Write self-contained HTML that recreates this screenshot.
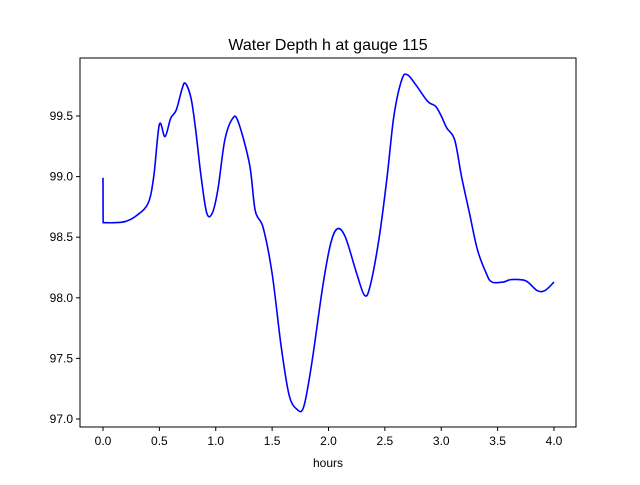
<!DOCTYPE html>
<html><head><meta charset="utf-8"><style>
body{margin:0;background:#fff;}
svg{font-family:"Liberation Sans","DejaVu Sans",sans-serif;}
</style></head><body>
<svg id="chart" width="640" height="480">
<rect x="0" y="0" width="640" height="480" fill="#fff"/>
<text x="328" y="50" font-size="16" text-anchor="middle">Water Depth h at gauge 115</text>
<g id="plot"></g>
<rect x="80" y="58" width="496" height="369" fill="none" stroke="#000" stroke-width="1"/>
<text x="328" y="467" font-size="12" text-anchor="middle">hours</text>
</svg>
<script>
const times=[0,0.001,0.1,0.2,0.3,0.4,0.45,0.5,0.55,0.6,0.65,0.7,0.73,0.78,0.82,0.87,0.92,0.97,1.02,1.08,1.15,1.2,1.3,1.35,1.42,1.5,1.58,1.65,1.72,1.78,1.85,1.95,2.02,2.08,2.15,2.25,2.32,2.37,2.45,2.52,2.58,2.65,2.7,2.78,2.88,2.95,3.0,3.05,3.12,3.18,3.25,3.32,3.4,3.45,3.55,3.62,3.75,3.85,3.92,4.0];
const depths=[98.99,98.62,98.62,98.63,98.68,98.78,99.0,99.43,99.33,99.48,99.55,99.72,99.77,99.65,99.4,99.0,98.7,98.7,98.9,99.3,99.48,99.45,99.1,98.72,98.58,98.2,97.6,97.2,97.08,97.1,97.45,98.1,98.45,98.57,98.5,98.2,98.02,98.1,98.5,99.0,99.5,99.8,99.84,99.75,99.62,99.58,99.5,99.4,99.3,99.0,98.7,98.4,98.2,98.13,98.13,98.15,98.14,98.06,98.06,98.13];
const xTicks=[0,0.5,1,1.5,2,2.5,3,3.5,4];
const xTickLabels=["0.0","0.5","1.0","1.5","2.0","2.5","3.0","3.5","4.0"];
const yTicks=[97,97.5,98,98.5,99,99.5];
const yTickLabels=["97.0","97.5","98.0","98.5","99.0","99.5"];
const X=v=>103+v*112.75;
const Y=v=>419-(v-97)*121.2;
const g=document.getElementById('plot');
const NS='http://www.w3.org/2000/svg';
function mk(t,a){const e=document.createElementNS(NS,t);for(const k in a)e.setAttribute(k,a[k]);g.appendChild(e);return e;}
xTicks.forEach((v,i)=>{
 const l=mk('line',{x1:X(v),x2:X(v),y1:427,y2:431,stroke:'#000'});
 
 
 const t=mk('text',{x:X(v),y:445,'font-size':12,'text-anchor':'middle'});t.textContent=xTickLabels[i];
 
 
});
yTicks.forEach((v,i)=>{
 const l=mk('line',{x1:76,x2:80,y1:Y(v),y2:Y(v),stroke:'#000'});
 
 
 const t=mk('text',{x:73,y:Y(v)+4,'font-size':12,'text-anchor':'end'});t.textContent=yTickLabels[i];
 
 
});
const pts=times.map((t,i)=>[X(t),Y(depths[i])]);
let d='M'+pts[0][0]+','+pts[0][1]+' L'+pts[1][0]+','+pts[1][1];
for(let i=1;i<pts.length-1;i++){
 const p0=pts[Math.max(i-1,1)],p1=pts[i],p2=pts[i+1],p3=pts[Math.min(i+2,pts.length-1)];
 const c1=[p1[0]+(p2[0]-p0[0])/6,p1[1]+(p2[1]-p0[1])/6];
 const c2=[p2[0]-(p3[0]-p1[0])/6,p2[1]-(p3[1]-p1[1])/6];
 d+=' C'+c1[0]+','+c1[1]+' '+c2[0]+','+c2[1]+' '+p2[0]+','+p2[1];
}
const p=mk('path',{d:d,fill:'none',stroke:'#0000ff','stroke-width':1.6,'stroke-linejoin':'round'});


</script>
</body></html>
